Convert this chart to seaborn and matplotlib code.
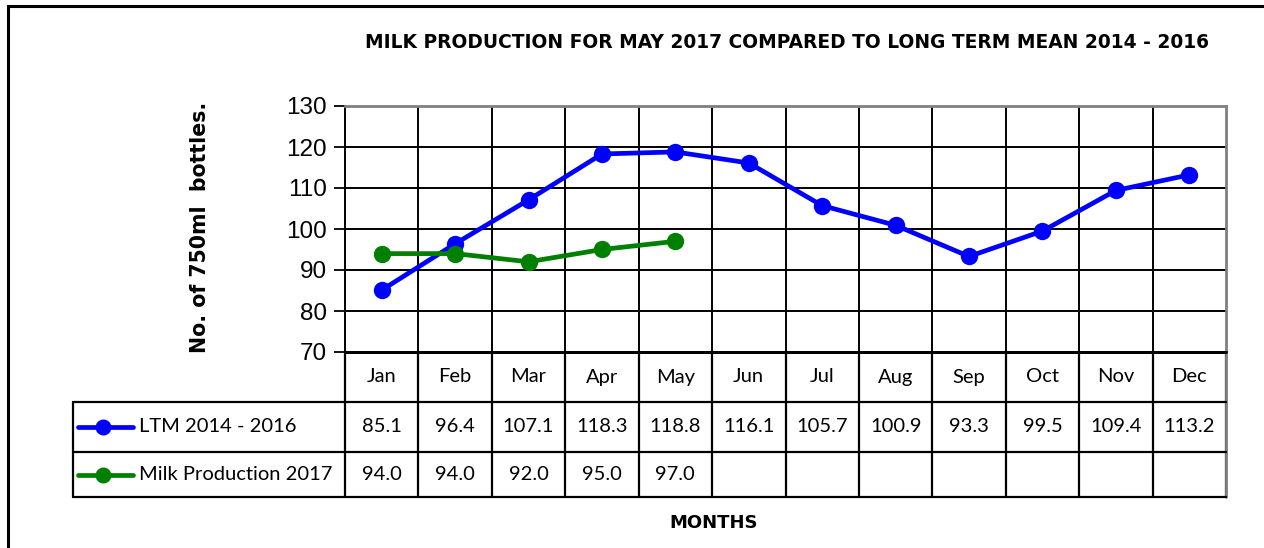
import matplotlib
matplotlib.use("Agg")
import matplotlib.pyplot as plt
from matplotlib.patches import Rectangle
import seaborn as sns
import pandas as pd

months = ["Jan", "Feb", "Mar", "Apr", "May", "Jun", "Jul", "Aug", "Sep", "Oct", "Nov", "Dec"]
ltm_label = "LTM 2014 - 2016"
ltm_values = [85.1, 96.4, 107.1, 118.3, 118.8, 116.1, 105.7, 100.9, 93.3, 99.5, 109.4, 113.2]
milk_label = "Milk Production 2017"
milk_values = [94.0, 94.0, 92.0, 95.0, 97.0]
yticks = [70, 80, 90, 100, 110, 120, 130]
title = "MILK PRODUCTION FOR MAY 2017 COMPARED TO LONG TERM MEAN 2014 - 2016"
ylabel = "No. of 750ml  bottles."
xlabel = "MONTHS"

sns.set_theme(style="white")
plt.rcParams["font.family"] = ["Lato", "DejaVu Sans"]
plt.rcParams["text.color"] = "black"
plt.rcParams["ytick.color"] = "black"
plt.rcParams["ytick.labelcolor"] = "black"

W, H = 1264, 548
fig = plt.figure(figsize=(W / 100, H / 100), dpi=100)

def px_rect(x0, y0, x1, y1):
    return [x0 / W, 1 - y1 / H, (x1 - x0) / W, (y1 - y0) / H]

# outer frame
fig.add_artist(Rectangle((8 / W, -0.05), 1.2, (H - 6) / H + 0.05, transform=fig.transFigure,
                         fill=False, edgecolor="black", linewidth=2.2))

PL, PR, PT, PB = 345, 1226, 106, 352
ax = fig.add_axes(px_rect(PL, PT, PR, PB))

df = pd.DataFrame({
    "month": list(range(12)) + list(range(len(milk_values))),
    "value": ltm_values + milk_values,
    "series": [ltm_label] * 12 + [milk_label] * len(milk_values),
})
sns.lineplot(data=df, x="month", y="value", hue="series", palette={ltm_label: "#0000ff", milk_label: "#008000"},
             marker="o", markersize=12.5, markeredgewidth=0, linewidth=3.4, ax=ax, legend=False, sort=False)

ax.set_xlim(-0.5, 11.5)
ax.set_ylim(70, 130)
ax.set_yticks(yticks)
ax.set_yticklabels([str(t) for t in yticks], fontsize=17.5, family="Liberation Sans", color="black")
ax.tick_params(axis="y", direction="out", length=8, width=1.3, color="black", pad=5, left=True)
ax.set_xticks([])
ax.set_xlabel("")
ax.set_ylabel("")
for y in yticks[1:-1]:
    ax.axhline(y, color="black", linewidth=1.4, zorder=0)
for i in range(1, 12):
    ax.axvline(i - 0.5, color="black", linewidth=1.4, zorder=0)
ax.spines["left"].set_color("black")
ax.spines["left"].set_linewidth(1.4)
ax.spines["bottom"].set_color("black")
ax.spines["bottom"].set_linewidth(2)
ax.spines["top"].set_color("#808080")
ax.spines["top"].set_linewidth(2)
ax.spines["right"].set_color("#808080")
ax.spines["right"].set_linewidth(2)

# data table
TL, TB = 73, 497
rows = [352, 402, 452, 497]
colw = (PR - PL) / 12
tax = fig.add_axes(px_rect(TL, rows[0], PR, TB))
tax.set_xlim(TL, PR)
tax.set_ylim(TB, rows[0])
tax.axis("off")
lw = 1.6
for i in range(13):
    x = PL + i * colw
    tax.plot([x, x], [rows[0], TB], color="black", lw=lw, clip_on=False)
tax.plot([PR, PR], [rows[0], TB], color="#808080", lw=2, clip_on=False)
tax.plot([PL, PR], [rows[0], rows[0]], color="black", lw=2, clip_on=False)
for r in rows[1:]:
    tax.plot([TL, PR], [r, r], color="black", lw=lw, clip_on=False)
tax.plot([TL, TL], [rows[1], TB], color="black", lw=lw, clip_on=False)

fs = 14.5
for i, m in enumerate(months):
    tax.text(PL + (i + 0.5) * colw, (rows[0] + rows[1]) / 2, m, ha="center", va="center", fontsize=fs)
for i, v in enumerate(ltm_values):
    tax.text(PL + (i + 0.5) * colw, (rows[1] + rows[2]) / 2, f"{v:.1f}", ha="center", va="center", fontsize=fs)
for i, v in enumerate(milk_values):
    tax.text(PL + (i + 0.5) * colw, (rows[2] + rows[3]) / 2, f"{v:.1f}", ha="center", va="center", fontsize=fs)

for (label, color), (r0, r1) in zip([(ltm_label, "#0000ff"), (milk_label, "#008000")],
                                     [(rows[1], rows[2]), (rows[2], rows[3])]):
    yc = (r0 + r1) / 2
    tax.plot([78, 133], [yc, yc], color=color, lw=3.4, clip_on=False)
    tax.plot([103], [yc], marker="o", color=color, markersize=11.5, markeredgewidth=0, clip_on=False)
    tax.text(139, yc, label, ha="left", va="center", fontsize=fs)

fig.text(787 / W, 1 - 42 / H, title, ha="center", va="center", fontsize=13.4, fontweight="bold",
         family="DejaVu Sans")
fig.text(200 / W, 1 - 227 / H, ylabel, ha="center", va="center", rotation=90, fontsize=14.8, fontweight="bold",
         family="DejaVu Sans")
fig.text(714 / W, 1 - 523 / H, xlabel, ha="center", va="center", fontsize=13, fontweight="bold",
         family="DejaVu Sans")

fig.savefig("out.png", dpi=100)
